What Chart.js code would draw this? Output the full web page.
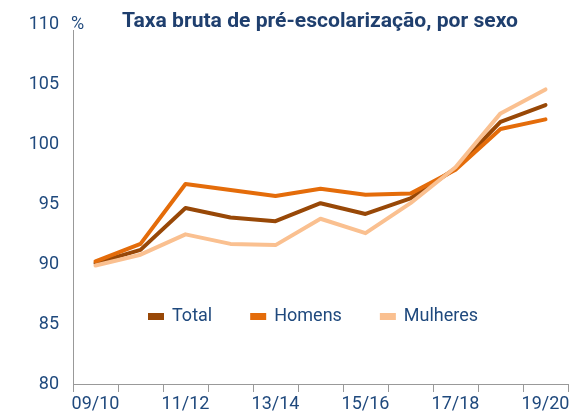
<!DOCTYPE html>
<html>
<head>
<meta charset="utf-8">
<script src="https://cdn.jsdelivr.net/npm/chart.js@4/dist/chart.umd.min.js"></script>
<style>
  html, body { margin: 0; padding: 0; background: #fff; }
  #wrap { width: 572px; height: 414px; position: relative; }
</style>
</head>
<body>
<div id="wrap"><canvas id="chart"></canvas></div>
<script>
// data
const categories = ['09/10', '10/11', '11/12', '12/13', '13/14', '14/15', '15/16', '16/17', '17/18', '18/19', '19/20'];
const total = [90.1, 91.2, 94.7, 93.9, 93.6, 95.1, 94.2, 95.5, 98.0, 101.9, 103.3];
const homens = [90.25, 91.7, 96.7, 96.2, 95.7, 96.3, 95.8, 95.9, 97.9, 101.3, 102.1];
const mulheres = [89.9, 90.8, 92.5, 91.7, 91.6, 93.8, 92.6, 95.1, 98.1, 102.6, 104.6];
const yTicks = [80, 85, 90, 95, 100, 105, 110];

const titleText = 'Taxa bruta de pré-escolarização, por sexo';
const textColor = '#1f497d';
const axisColor = '#999999';

// title, unit and legend drawn over the chart
const overlay = {
  id: 'overlay',
  afterDraw(chart) {
    const ctx = chart.ctx;
    ctx.save();
    ctx.textBaseline = 'middle';
    ctx.textAlign = 'left';

    // title sized to span the same width as the original
    ctx.font = 'bold 20px Roboto';
    const size = 20 * 397 / ctx.measureText(titleText).width;
    ctx.font = 'bold ' + size.toFixed(1) + 'px Roboto';
    ctx.fillStyle = '#1f3f6e';
    ctx.fillText(titleText, 122, 22);

    ctx.font = '18px Roboto';
    ctx.fillStyle = '#fff';
    ctx.fillRect(71, 14, 13, 16);
    ctx.fillStyle = textColor;
    ctx.fillText('%', 71, 24);

    // legend
    let x = 148;
    const y = 316;
    chart.data.datasets.forEach(ds => {
      ctx.fillStyle = ds.borderColor;
      ctx.fillRect(x, y - 3, 16, 7);
      ctx.fillStyle = textColor;
      ctx.fillText(ds.label, x + 24, y);
      x += 24 + ctx.measureText(ds.label).width + 38;
    });
    ctx.restore();
  }
};

new Chart(document.getElementById('chart'), {
  type: 'line',
  data: {
    labels: categories,
    datasets: [
      { label: 'Total', data: total, borderColor: '#984807', order: 3 },
      { label: 'Homens', data: homens, borderColor: '#e46c0a', order: 2 },
      { label: 'Mulheres', data: mulheres, borderColor: '#fac090', order: 1 },
    ],
  },
  options: {
    responsive: true,
    maintainAspectRatio: false,
    animation: false,
    layout: { padding: { top: 24, right: 4, left: 0, bottom: 0 } },
    elements: {
      line: { borderWidth: 4, tension: 0, borderCapStyle: 'round', borderJoinStyle: 'round', fill: false },
      point: { radius: 0 },
    },
    plugins: {
      legend: { display: false },
      tooltip: { enabled: false },
    },
    scales: {
      x: {
        offset: true,
        grid: { offset: true, drawOnChartArea: false, drawTicks: true, tickLength: 8, color: axisColor },
        border: { display: true, color: axisColor, width: 1 },
        ticks: {
          autoSkip: false,
          maxRotation: 0,
          padding: 2,
          color: textColor,
          font: { family: 'Roboto', size: 18 },
          callback: (v, i) => (i % 2 === 0 ? categories[i] : ''),
        },
        afterFit: s => { s.height = 30; },
      },
      y: {
        min: 80,
        max: 110,
        afterBuildTicks: s => { s.ticks = yTicks.map(v => ({ value: v })); },
        grid: { display: false, drawTicks: false },
        border: { display: true, color: axisColor, width: 1 },
        ticks: {
          padding: 14,
          color: textColor,
          font: { family: 'Roboto', size: 18 },
        },
        afterFit: s => { s.width = 73; },
      },
    },
  },
  plugins: [overlay],
});
</script>
</body>
</html>
